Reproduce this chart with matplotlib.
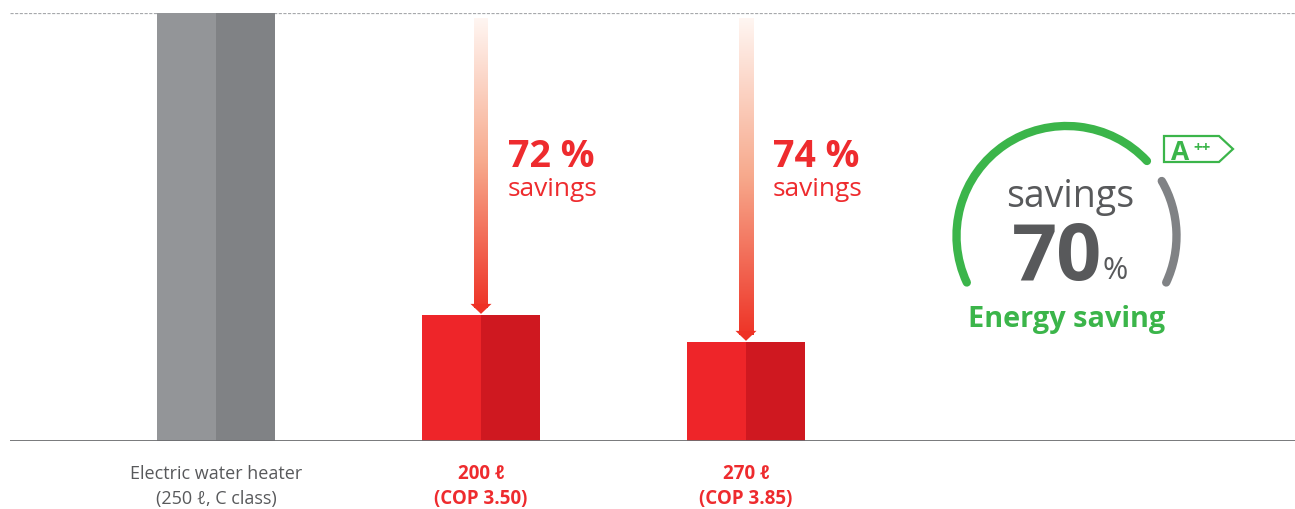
import numpy as np
import matplotlib
matplotlib.use("Agg")
import matplotlib.pyplot as plt
from matplotlib.patches import Arc, Polygon
from matplotlib.colors import LinearSegmentedColormap

plt.rcParams['font.family'] = ['Open Sans', 'DejaVu Sans']

# ---- data ----
cat_line1 = ["Electric water heater", "200 ℓ", "270 ℓ"]
cat_line2 = ["(250 ℓ, C class)", "(COP 3.50)", "(COP 3.85)"]
consumption = [100, 29.4, 23.1]          # relative energy use, electric heater = 100
savings_pct = [None, 72, 74]             # savings vs. electric heater
gauge_value = 70                         # headline saving shown in the gauge
energy_class = "A"

GRAY_L, GRAY_D = "#939598", "#808285"
RED_L, RED_D = "#EE2529", "#CF1820"
RED_TXT = "#EE2B2E"
GREEN = "#3BB54A"
DARK = "#58595B"

W, H = 1295, 510
fig = plt.figure(figsize=(W / 100, H / 100), dpi=100)
AX_TOP, AX_BOT = 14, 442
ax = fig.add_axes([10 / W, (H - AX_BOT) / H, 1285 / W, (AX_BOT - AX_TOP) / H])

x = np.arange(len(cat_line1))
bw = 118 / 265
for i, v in enumerate(consumption):
    left_c, right_c = (GRAY_L, GRAY_D) if i == 0 else (RED_L, RED_D)
    ax.bar(x[i] - bw / 4, v, width=bw / 2, color=left_c, zorder=3)
    ax.bar(x[i] + bw / 4, v, width=bw / 2, color=right_c, zorder=3)

# reference line at the electric heater level and the baseline
ax.axhline(100, color="#A7A9AC", lw=0.9, dashes=(2.5, 1.2), zorder=1)
ax.axhline(0, color="#6D6E71", lw=1.3, zorder=4)

# gradient arrows pointing down onto the heat-pump bars
grad = LinearSegmentedColormap.from_list("g", ["#FFF6F2", "#F7A98C", "#EE3427"])
shaft_w = 14 / 265
head_w = 21 / 265
head_h = 10 / 428 * 100
for i, s in enumerate(savings_pct):
    if s is None:
        continue
    top = 98.8
    tip = consumption[i] + 0.3
    ramp = np.linspace(1, 0, 256).reshape(-1, 1)   # white at the top, red at the bottom
    ax.imshow(ramp, cmap=grad, origin="lower",
              extent=[x[i] - shaft_w / 2, x[i] + shaft_w / 2, tip + head_h * 0.6, top],
              aspect="auto", interpolation="bilinear", zorder=2)
    ax.add_patch(Polygon([[x[i] - head_w / 2, tip + head_h], [x[i] + head_w / 2, tip + head_h],
                          [x[i], tip]], closed=True, color="#EE3124", lw=0, zorder=2))
    ax.text(x[i] + 27 / 265, 64.2, f"{s} %", color=RED_TXT, fontsize=27, fontweight="bold",
            ha="left", va="baseline")
    ax.text(x[i] + 27 / 265, 57.4, "savings", color=RED_TXT, fontsize=19,
            ha="left", va="baseline")

ax.set_xlim((10 - 216) / 265, (1295 - 216) / 265)
ax.set_ylim(0, 100)
ax.set_xticks([])
ax.set_yticks([])
for sp in ax.spines.values():
    sp.set_visible(False)

# category labels under the baseline (two lines each)
tr = ax.get_xaxis_transform()
def below(ypx):
    return (AX_BOT - ypx) / (AX_BOT - AX_TOP)
for i in range(len(cat_line1)):
    kw = dict(color=DARK, fontsize=13) if i == 0 else dict(color=RED_TXT, fontsize=13.5, fontweight="bold")
    ax.text(x[i], below(474.5), cat_line1[i], transform=tr, ha="center", va="center", clip_on=False, **kw)
    ax.text(x[i], below(499.5), cat_line2[i], transform=tr, ha="center", va="center", clip_on=False, **kw)

# ---- energy-saving gauge (pixel coordinates, y up) ----
g = fig.add_axes([0, 0, 1, 1], zorder=5)
g.set_xlim(0, W)
g.set_ylim(0, H)
g.axis("off")
g.patch.set_alpha(0)

cx, cy, r = 1066.5, H - 237, 110
arc_g = Arc((cx, cy), 2 * r, 2 * r, theta1=43, theta2=205, color=GREEN, lw=6)
arc_r = Arc((cx, cy), 2 * r, 2 * r, theta1=-25, theta2=30, color="#808285", lw=6)
for a in (arc_g, arc_r):
    a.set_capstyle("round")
    g.add_patch(a)

g.text(1070, H - 207, "savings", color=DARK, fontsize=27, ha="center", va="baseline")
g.text(1057, H - 280, f"{gauge_value}", color=DARK, fontsize=57, fontweight="bold",
       ha="center", va="baseline")
g.text(1102, H - 279, "%", color=DARK, fontsize=22, ha="left", va="baseline")
g.text(1067, H - 327, "Energy saving", color=GREEN, fontsize=20.8, fontweight="bold",
       ha="center", va="baseline")

badge = Polygon([[1164, H - 137], [1219, H - 137], [1233, H - 150], [1219, H - 163], [1164, H - 163]],
                closed=True, fill=False, edgecolor=GREEN, lw=1.6)
g.add_patch(badge)
g.text(1171, H - 160, energy_class, color=GREEN, fontsize=19, fontweight="bold",
       ha="left", va="baseline")
g.text(1193, H - 152, "++", color=GREEN, fontsize=11, fontweight="bold",
       ha="left", va="baseline")

fig.savefig("out.png", dpi=100)
